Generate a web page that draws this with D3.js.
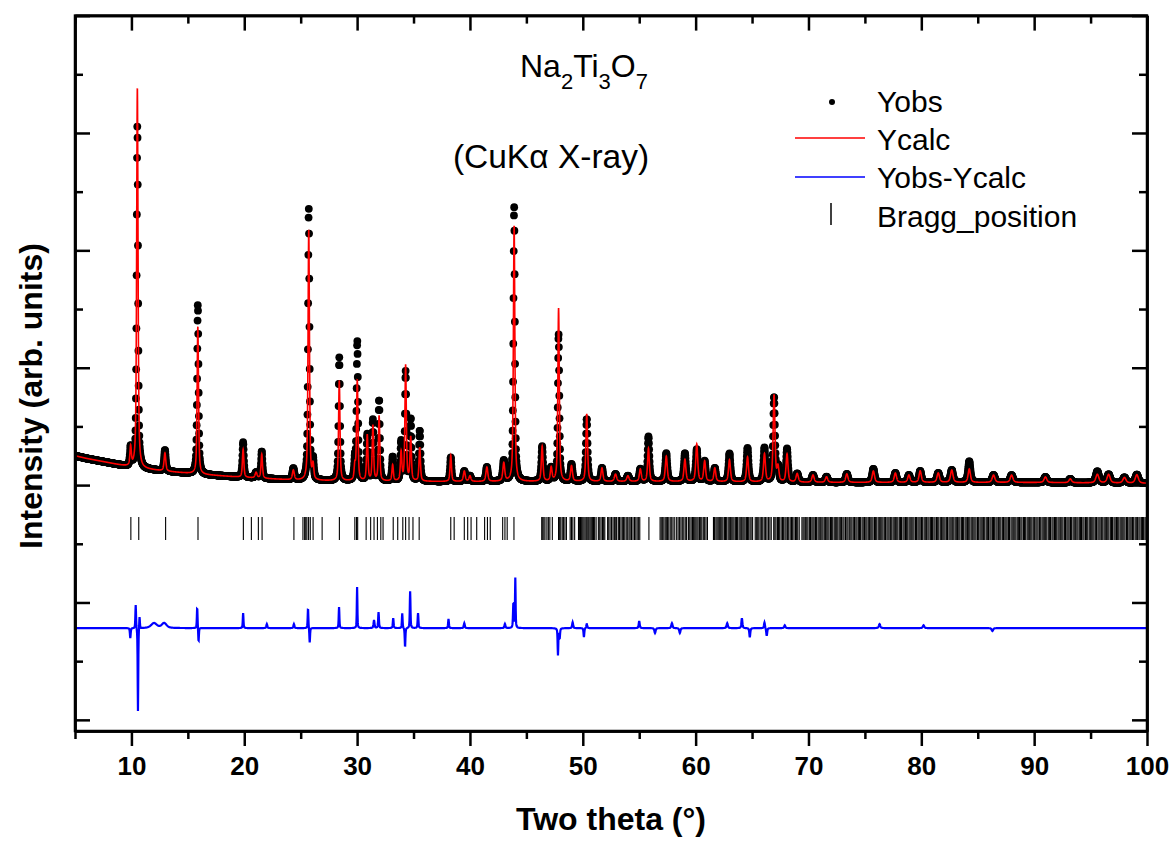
<!DOCTYPE html>
<html>
<head>
<meta charset="utf-8">
<script src="https://cdn.jsdelivr.net/npm/d3@7"></script>
<style>
  body { margin: 0; background: #fff; }
  text { font-family: "Liberation Sans", Arial, sans-serif; }
</style>
</head>
<body>
<svg id="chart" width="1174" height="842"></svg>
<script>
// background points (2theta, counts)
const bgTheta  = [5, 6, 8, 10, 13, 16, 20, 25, 30, 40, 50, 60, 70, 80, 90, 100];
const bgCounts = [500, 455, 380, 300, 235, 185, 130, 80, 65, 60, 60, 60, 45, 45, 45, 30];

// peak list: position, calculated height, observed height, fwhm (deg)
const peakTheta = [9.93, 10.525, 12.97, 15.885, 19.9, 21.05, 21.55, 24.35, 25.715, 26.1,
  28.42, 29.8, 30.015, 30.9, 31.4, 31.95, 33.15, 33.9, 34.3, 34.75,
  35.55, 38.3, 39.5, 40.0, 41.5, 43.0, 43.915, 46.4, 47.2, 47.855,
  49.0, 50.35, 51.7, 52.9, 54.0, 55.1, 55.82, 57.4, 59.05, 60.1,
  60.8, 61.7, 63.0, 64.6, 66.1, 66.95, 67.3, 68.1, 69.0, 70.4,
  71.6, 73.4, 75.75, 77.7, 78.9, 79.9, 81.5, 82.7, 84.25, 86.4,
  88.0, 91.0, 93.2, 95.6, 96.6, 98.0, 99.1];
const calcHeight = [330, 6480, 310, 2510, 480, 95, 410, 165, 4270, 240,
  1710, 240, 1710, 780, 940, 1110, 275, 490, 1970, 740,
  575, 445, 175, 95, 245, 310, 4360, 595, 230, 2950,
  260, 1150, 230, 125, 95, 210, 565, 430, 375, 635,
  345, 230, 375, 425, 475, 1480, 240, 475, 145, 125,
  95, 145, 195, 160, 125, 195, 160, 210, 230, 125,
  125, 95, 65, 145, 145, 95, 145];
const obsHeight = [330, 5840, 360, 2890, 600, 95, 460, 195, 4640, 325,
  2100, 325, 2370, 780, 1030, 1380, 410, 660, 1850, 1050,
  865, 410, 175, 95, 245, 350, 4690, 595, 230, 2510,
  290, 1070, 230, 125, 95, 210, 765, 480, 480, 545,
  345, 230, 480, 575, 575, 1440, 240, 565, 145, 125,
  95, 145, 230, 160, 125, 195, 160, 210, 360, 125,
  125, 95, 65, 195, 145, 95, 145];
const peakFwhm = [0.15, 0.145, 0.18, 0.145, 0.15, 0.2, 0.15, 0.2, 0.145, 0.15,
  0.145, 0.145, 0.145, 0.145, 0.145, 0.145, 0.15, 0.15, 0.145, 0.145,
  0.15, 0.15, 0.2, 0.2, 0.2, 0.2, 0.15, 0.17, 0.18, 0.15,
  0.2, 0.17, 0.2, 0.23, 0.24, 0.2, 0.18, 0.2, 0.2, 0.2,
  0.2, 0.2, 0.2, 0.2, 0.2, 0.19, 0.2, 0.2, 0.24, 0.24,
  0.24, 0.24, 0.24, 0.24, 0.24, 0.24, 0.26, 0.26, 0.24, 0.28,
  0.28, 0.28, 0.28, 0.32, 0.32, 0.32, 0.32];

// difference curve: offset and features (position, amplitude, fwhm)
const diffOffset = -2437;
const diffTheta = [9.9, 10.38, 10.58, 10.72, 12.0, 12.9, 15.83, 15.95, 19.9, 22.0,
  24.4, 25.65, 25.8, 28.4, 30.0, 31.5, 31.9, 33.2, 34.0, 34.25,
  34.7, 35.4, 38.1, 39.5, 43.1, 43.85, 44.02, 47.8, 47.95, 49.1,
  50.1, 50.35, 55.0, 56.4, 57.9, 58.6, 62.8, 64.1, 64.8, 66.1,
  66.3, 67.9, 76.3, 80.2, 86.3];
const diffAmp = [-170, 410, -1430, 220, 85, 85, 360, -240, 255, 70,
  70, 340, -255, 360, 700, 135, 270, 170, 255, -325,
  630, 255, 155, 85, 70, 425, 850, -460, -170, 100,
  -155, 70, 120, -85, 85, -85, 85, 170, -155, 100,
  -135, 50, 70, 50, -50];
const diffFwhm = [0.08, 0.07, 0.06, 0.07, 0.6, 0.5, 0.07, 0.07, 0.07, 0.1,
  0.1, 0.07, 0.07, 0.07, 0.06, 0.1, 0.08, 0.08, 0.07, 0.07,
  0.07, 0.08, 0.08, 0.1, 0.1, 0.08, 0.06, 0.07, 0.08, 0.1,
  0.08, 0.1, 0.1, 0.12, 0.12, 0.12, 0.12, 0.1, 0.1, 0.1,
  0.1, 0.12, 0.15, 0.15, 0.15];

// Bragg reflection positions (2theta)
const braggTheta = [9.95, 10.65, 13.03, 15.9, 19.92, 20.63, 21.25, 21.58, 24.4, 25.2,
  25.35, 25.45, 25.55, 25.7, 25.85, 26.1, 26.9, 28.43, 29.8, 29.95,
  30.05, 30.8, 31.2, 31.5, 31.8, 32.1, 32.3, 33.2, 33.6, 34.05,
  34.3, 34.6, 34.95, 35.5, 38.3, 38.6, 39.5, 39.8, 40.1, 40.6,
  41.3, 41.55, 41.8, 42.9, 43.1, 43.3, 43.9,
  46.36, 46.45, 46.55, 46.65, 46.82, 46.95, 47.08, 47.3,
  47.85, 47.95, 48.05, 48.18, 48.3, 48.42, 48.55, 48.88, 49.0, 49.12, 49.28,
  49.62, 49.7, 49.8, 49.9, 50.0, 50.1, 50.2, 50.3, 50.38, 50.47, 50.55, 50.65,
  50.75, 50.85, 50.95, 51.05, 51.18, 51.38, 51.5, 51.62, 51.75, 51.85, 51.95,
  52.2, 52.3, 52.42, 52.55, 52.68, 52.8, 52.92, 53.0, 53.15, 53.25, 53.38, 53.5,
  53.6, 53.72, 53.85, 53.98, 54.1, 54.2, 54.32, 54.45, 54.58, 54.7, 54.82, 54.95,
  55.05, 55.86, 56.85, 56.95, 57.05, 57.18, 57.3, 57.4, 57.5, 57.62, 57.75, 57.88,
  58.0, 58.15, 58.32, 58.45, 58.58, 58.7, 58.82, 58.95, 59.08, 59.2, 59.36, 59.48,
  59.6, 59.72, 59.8, 59.92, 60.02, 60.12, 60.22, 60.35, 60.45, 60.55, 60.68, 60.8,
  60.92, 61.05, 61.58, 61.68, 61.8, 61.9, 62.0, 62.1, 62.22, 62.32, 62.42, 62.55,
  62.65, 62.75, 62.88, 62.98, 63.08, 63.2, 63.3, 63.4, 63.52, 63.62, 63.72, 63.85,
  63.95, 64.05, 64.18, 64.28, 64.38, 64.5, 64.6, 64.7, 64.82, 64.92, 65.05, 65.28,
  65.38, 65.5, 65.6, 65.72, 65.85, 65.95, 66.08, 66.2, 66.32, 66.45, 66.58, 66.7,
  66.92, 67.02, 67.12, 67.25, 67.35, 67.45, 67.58, 67.7, 67.8, 67.92, 68.02, 68.15,
  68.25, 68.38, 68.5, 68.6, 68.72, 68.85, 68.95, 69.05, 69.18, 69.42, 69.52, 69.62,
  69.75, 69.85, 69.95, 70.08, 70.18, 70.3, 70.4, 70.5, 70.62, 70.72, 70.85, 70.95,
  71.05, 71.18, 71.28, 71.4, 71.5, 71.62, 71.72, 71.82, 71.95, 72.05, 72.15, 72.28,
  72.38, 72.5, 72.6, 72.72, 72.82, 72.92, 73.05, 73.15, 73.28, 73.4, 73.5, 73.62,
  73.75, 73.85, 73.97, 74.08, 74.2, 74.3, 74.42, 74.52, 74.62, 74.75, 74.85, 74.96,
  75.08, 75.18, 75.3, 75.4, 75.52, 75.62, 75.72, 75.85, 75.95, 76.05, 76.18, 76.28,
  76.4, 76.5, 76.6, 76.72, 76.82, 76.95, 77.05, 77.15, 77.28, 77.38, 77.5, 77.6,
  77.7, 77.82, 77.92, 78.05, 78.15, 78.25, 78.38, 78.48, 78.6, 78.7, 78.8, 78.92,
  79.02, 79.15, 79.25, 79.35, 79.48, 79.58, 79.7, 79.8, 79.9, 80.02, 80.12, 80.25,
  80.35, 80.45, 80.58, 80.68, 80.8, 80.9, 81.0, 81.12, 81.22, 81.35, 81.45, 81.55,
  81.68, 81.78, 81.9, 82.0, 82.1, 82.22, 82.32, 82.45, 82.55, 82.65, 82.78, 82.88,
  83.0, 83.1, 83.2, 83.32, 83.42, 83.55, 83.65, 83.75, 83.88, 83.98, 84.1, 84.2,
  84.3, 84.42, 84.52, 84.65, 84.75, 84.85, 84.98, 85.08, 85.2, 85.3, 85.4, 85.52,
  85.62, 85.75, 85.85, 85.95, 86.08, 86.18, 86.3, 86.4, 86.5, 86.62, 86.72, 86.85,
  86.95, 87.05, 87.18, 87.28, 87.4, 87.5, 87.6, 87.72, 87.82, 87.95, 88.05, 88.15,
  88.28, 88.38, 88.5, 88.6, 88.7, 88.82, 88.92, 89.05, 89.15, 89.25, 89.38, 89.48,
  89.6, 89.7, 89.8, 89.92, 90.02, 90.15, 90.25, 90.35, 90.48, 90.58, 90.7, 90.8,
  90.9, 91.02, 91.12, 91.25, 91.35, 91.45, 91.58, 91.68, 91.8, 91.9, 92.0, 92.12,
  92.22, 92.35, 92.45, 92.55, 92.68, 92.78, 92.9, 93.0, 93.1, 93.22, 93.32, 93.45,
  93.55, 93.65, 93.78, 93.88, 94.0, 94.1, 94.2, 94.32, 94.42, 94.55, 94.65, 94.75,
  94.88, 94.98, 95.1, 95.2, 95.3, 95.42, 95.52, 95.65, 95.75, 95.85, 95.98, 96.08,
  96.2, 96.3, 96.4, 96.52, 96.62, 96.75, 96.85, 96.95, 97.08, 97.18, 97.3, 97.4,
  97.5, 97.62, 97.72, 97.85, 97.95, 98.05, 98.18, 98.28, 98.4, 98.5, 98.6, 98.72,
  98.82, 98.95, 99.05, 99.15, 99.28, 99.38, 99.5, 99.6, 99.7, 99.82, 99.92];

const xTicks = [10, 20, 30, 40, 50, 60, 70, 80, 90, 100];
const xMinor = [5, 15, 25, 35, 45, 55, 65, 75, 85, 95];
const yTicks = [-4000, -2000, 0, 2000, 4000, 6000, 8000];
const yMinor = [-3000, -1000, 1000, 3000, 5000, 7000];

const svg = d3.select('#chart');
const plotL = 75, plotR = 1147, plotT = 15.6, plotB = 731;
const fontFam = '"Liberation Sans", Arial, sans-serif';

const x = d3.scaleLinear().domain([5, 100]).range([plotL, plotR]);
const y = d3.scaleLinear().domain([-4190, 8000]).range([plotB, plotT]);
const bg = d3.scaleLinear().domain(bgTheta).range(bgCounts);

// pseudo-Voigt profile summed over a peak list
function profile(t, pos, amp, w) {
  let s = 0;
  for (let i = 0; i < pos.length; i++) {
    const d = (t - pos[i]) / w[i];
    if (Math.abs(d) > 40) continue;
    const q = 4 * d * d;
    s += amp[i] * (0.6 / (1 + q) + 0.4 * Math.exp(-Math.LN2 * q));
  }
  return s;
}

const fine = d3.range(5, 100.0001, 0.01);
const step = d3.range(5, 100.0001, 0.02);
const calcPts = fine.map(t => [t, bg(t) + profile(t, peakTheta, calcHeight, peakFwhm)]);
const obsPts = step.map(t => [t, bg(t) + profile(t, peakTheta, obsHeight, peakFwhm)]);
const diffPts = step.map(t => [t, diffOffset + profile(t, diffTheta, diffAmp, diffFwhm)]);

svg.append('defs').append('clipPath').attr('id', 'clip')
  .append('rect').attr('x', plotL).attr('y', plotT)
  .attr('width', plotR - plotL).attr('height', plotB - plotT);

const plot = svg.append('g').attr('clip-path', 'url(#clip)');

// Bragg ticks
plot.append('g').selectAll('line')
  .data(braggTheta)
  .join('line')
  .attr('x1', d => x(d)).attr('x2', d => x(d))
  .attr('y1', 517).attr('y2', 540)
  .attr('stroke', '#000').attr('stroke-width', 1.1);

const line = d3.line().x(d => x(d[0])).y(d => y(d[1]));

plot.append('path')
  .attr('d', line(diffPts))
  .attr('fill', 'none').attr('stroke', '#0000ff').attr('stroke-width', 2.2);

plot.append('g').selectAll('circle')
  .data(obsPts)
  .join('circle')
  .attr('cx', d => x(d[0])).attr('cy', d => y(d[1]))
  .attr('r', 3.9).attr('fill', '#000');

plot.append('path')
  .attr('d', line(calcPts))
  .attr('fill', 'none').attr('stroke', '#ff0000').attr('stroke-width', 1.6);

// axes
function styleAxis(g) {
  g.selectAll('path, line').attr('stroke', '#000').attr('stroke-width', 2.5);
}
svg.append('g').attr('transform', `translate(0,${plotB})`)
  .call(d3.axisBottom(x).tickValues(xMinor).tickSize(8).tickFormat('').tickSizeOuter(0)).call(styleAxis);
svg.append('g').attr('transform', `translate(0,${plotB})`)
  .call(d3.axisBottom(x).tickValues(xTicks).tickSize(15).tickPadding(11).tickSizeOuter(0))
  .call(styleAxis)
  .call(g => g.selectAll('text').attr('font-size', 26).attr('font-weight', 'bold')
    .attr('font-family', fontFam).attr('fill', '#000'));
svg.append('g').attr('transform', `translate(0,${plotT})`)
  .call(d3.axisTop(x).tickValues(xMinor).tickSize(-8).tickFormat('').tickSizeOuter(0)).call(styleAxis);
svg.append('g').attr('transform', `translate(0,${plotT})`)
  .call(d3.axisTop(x).tickValues(xTicks).tickSize(-15).tickFormat('').tickSizeOuter(0)).call(styleAxis);
svg.append('g').attr('transform', `translate(${plotL},0)`)
  .call(d3.axisLeft(y).tickValues(yMinor).tickSize(-8).tickFormat('').tickSizeOuter(0)).call(styleAxis);
svg.append('g').attr('transform', `translate(${plotL},0)`)
  .call(d3.axisLeft(y).tickValues(yTicks).tickSize(-15).tickFormat('').tickSizeOuter(0)).call(styleAxis);
svg.append('g').attr('transform', `translate(${plotR},0)`)
  .call(d3.axisRight(y).tickValues(yMinor).tickSize(-8).tickFormat('').tickSizeOuter(0)).call(styleAxis);
svg.append('g').attr('transform', `translate(${plotR},0)`)
  .call(d3.axisRight(y).tickValues(yTicks).tickSize(-15).tickFormat('').tickSizeOuter(0)).call(styleAxis);
svg.append('rect')
  .attr('x', plotL).attr('y', plotT).attr('width', plotR - plotL).attr('height', plotB - plotT)
  .attr('fill', 'none').attr('stroke', '#000').attr('stroke-width', 2.5);

// axis titles
svg.append('text')
  .attr('x', (plotL + plotR) / 2).attr('y', 830)
  .attr('text-anchor', 'middle').attr('font-size', 32).attr('font-weight', 'bold')
  .text('Two theta (°)');
svg.append('text')
  .attr('transform', 'translate(42,396) rotate(-90)')
  .attr('text-anchor', 'middle').attr('font-size', 32).attr('font-weight', 'bold')
  .text('Intensity (arb. units)');

// sample annotation
const formula = svg.append('text')
  .attr('x', 584).attr('y', 77).attr('text-anchor', 'middle').attr('font-size', 32);
[['Na', 0], ['2', 1], ['Ti', 0], ['3', 1], ['O', 0], ['7', 1]].forEach(([s, sub], i, arr) => {
  const prevSub = i > 0 ? arr[i - 1][1] : 0;
  formula.append('tspan')
    .attr('font-size', sub ? 22 : 32)
    .attr('dy', sub === prevSub ? 0 : (sub ? 12 : -12))
    .text(s);
});
svg.append('text')
  .attr('x', 551).attr('y', 168).attr('text-anchor', 'middle').attr('font-size', 33.5)
  .text('(CuKα X-ray)');

// legend
const lg = svg.append('g');
const labels = ['Yobs', 'Ycalc', 'Yobs-Ycalc', 'Bragg_position'];
const baselines = [112, 150, 188, 227];
lg.selectAll('text').data(labels).join('text')
  .attr('x', 877).attr('y', (d, i) => baselines[i]).attr('font-size', 30).text(d => d);
lg.append('circle').attr('cx', 832).attr('cy', 102).attr('r', 3).attr('fill', '#000');
lg.append('line').attr('x1', 795).attr('x2', 865).attr('y1', 138).attr('y2', 138)
  .attr('stroke', '#ff0000').attr('stroke-width', 1.5);
lg.append('line').attr('x1', 795).attr('x2', 865).attr('y1', 177).attr('y2', 177)
  .attr('stroke', '#0000ff').attr('stroke-width', 1.5);
lg.append('line').attr('x1', 831).attr('x2', 831).attr('y1', 203).attr('y2', 225)
  .attr('stroke', '#000').attr('stroke-width', 1.5);
</script>
</body>
</html>
